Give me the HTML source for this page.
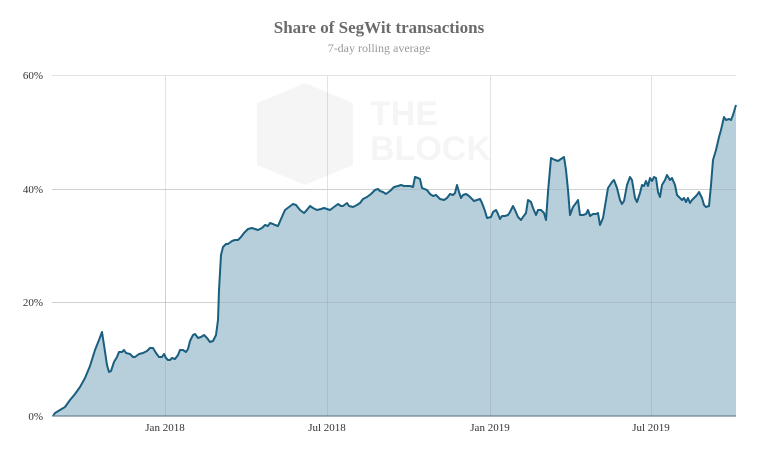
<!DOCTYPE html>
<html><head><meta charset="utf-8"><style>
body{margin:0;background:#fff;width:758px;height:450px;overflow:hidden}
svg text{font-family:"Liberation Serif",serif}
svg text.wm{font-family:"Liberation Sans",sans-serif}
</style></head><body>
<svg width="758" height="450" viewBox="0 0 758 450">
<text x="379" y="33" text-anchor="middle" font-size="17" font-weight="bold" fill="#6b6b6b">Share of SegWit transactions</text>
<text x="379" y="52" text-anchor="middle" font-size="12" fill="#999">7-day rolling average</text>
<g stroke="#e2e2e2" stroke-width="1">
<line x1="52" y1="75.5" x2="736" y2="75.5"/><line x1="52" y1="189.5" x2="736" y2="189.5"/><line x1="52" y1="302.5" x2="736" y2="302.5"/>
<line x1="165.5" y1="75" x2="165.5" y2="416"/><line x1="327.5" y1="75" x2="327.5" y2="416"/><line x1="490.5" y1="75" x2="490.5" y2="416"/><line x1="651.5" y1="75" x2="651.5" y2="416"/>
</g>
<g opacity="0.035" fill="#000">
<polygon points="305,83 353,103 353,165 305,185 257,165 257,103"/>
<text class="wm" x="370" y="125" font-weight="bold" font-size="34">THE</text>
<text class="wm" x="370" y="160" font-weight="bold" font-size="34">BLOCK</text>
</g>
<path fill="#b7cfdb" stroke="none" d="M52,416 L53,416 55,413 60,410 65,407 70,400 75,394 80,387 85,378 90,366 95,350 99,340 102,332 104,345 107,365 109,372 111,371 114,362 117,357 119,352 122,352 124,350 126,353 130,354 133,357 135,357 139,354 143,353 147,351 150,348 153,348 156,353 159,357 162,357 164,354 166,358 168,360 170,360 172,358 175,359 178,355 180,350 183,350 186,352 188,349 190,341 193,335 195,334 198,338 201,337 204,335 207,338 210,342 213,341 216,335 218,320 219,290 221,255 223,247 226,244 228,244 232,241 235,240 238,240 241,237 244,233 248,229 252,228 255,229 258,230 262,228 265,225 268,226 270,223 273,224 275,225 278,226 281,219 285,210 289,207 293,204 296,205 300,210 304,213 306,211 310,206 313,208 317,210 321,209 324,208 327,209 330,210 334,207 338,204 341,206 343,206 347,203 349,206 353,207 357,205 360,203 363,199 367,197 371,194 375,190 378,189 380,191 383,192 386,194 390,191 394,187 398,186 401,185 404,186 407,186 410,186 413,187 415,177 418,178 420,179 422,188 427,190 430,194 433,196 436,195 440,199 444,200 447,198 450,194 453,195 455,193 457,185 459,192 461,198 463,195 466,194 469,196 472,199 474,201 477,200 480,199 482,203 485,211 487,218 491,217 493,212 496,210 498,214 500,219 502,216 505,216 508,215 510,212 513,206 515,210 518,217 521,220 523,217 526,213 528,200 531,202 533,208 536,215 538,210 541,210 544,213 546,220 548,192 551,158 555,160 558,161 561,159 564,157 566,170 568,190 570,215 573,207 576,203 578,200 580,215 583,215 586,214 588,210 590,216 593,214 596,214 598,213 600,225 603,218 606,200 608,188 612,182 614,180 617,188 620,200 622,204 624,201 627,185 630,177 632,180 635,198 637,202 640,193 642,185 644,186 646,181 648,186 650,178 652,181 654,177 656,178 658,192 660,197 662,185 665,180 667,175 670,180 672,178 675,185 677,195 680,198 682,200 684,198 686,202 688,198 690,203 692,200 694,198 697,195 699,192 702,198 704,205 706,207 709,206 711,185 713,160 716,150 719,137 721,130 724,117 726,120 729,119 731,120 733,115 736,105 L736,416 Z"/>
<g stroke="#000" stroke-opacity="0.08" stroke-width="1">
<line x1="52" y1="302.5" x2="736" y2="302.5"/><line x1="52" y1="189.5" x2="736" y2="189.5"/>
<line x1="165.5" y1="240" x2="165.5" y2="416"/><line x1="327.5" y1="209" x2="327.5" y2="416"/><line x1="490.5" y1="217" x2="490.5" y2="416"/><line x1="651.5" y1="181" x2="651.5" y2="416"/>
</g>
<path fill="none" stroke="#1a5f80" stroke-width="2" stroke-linejoin="round" d="M53,416 55,413 60,410 65,407 70,400 75,394 80,387 85,378 90,366 95,350 99,340 102,332 104,345 107,365 109,372 111,371 114,362 117,357 119,352 122,352 124,350 126,353 130,354 133,357 135,357 139,354 143,353 147,351 150,348 153,348 156,353 159,357 162,357 164,354 166,358 168,360 170,360 172,358 175,359 178,355 180,350 183,350 186,352 188,349 190,341 193,335 195,334 198,338 201,337 204,335 207,338 210,342 213,341 216,335 218,320 219,290 221,255 223,247 226,244 228,244 232,241 235,240 238,240 241,237 244,233 248,229 252,228 255,229 258,230 262,228 265,225 268,226 270,223 273,224 275,225 278,226 281,219 285,210 289,207 293,204 296,205 300,210 304,213 306,211 310,206 313,208 317,210 321,209 324,208 327,209 330,210 334,207 338,204 341,206 343,206 347,203 349,206 353,207 357,205 360,203 363,199 367,197 371,194 375,190 378,189 380,191 383,192 386,194 390,191 394,187 398,186 401,185 404,186 407,186 410,186 413,187 415,177 418,178 420,179 422,188 427,190 430,194 433,196 436,195 440,199 444,200 447,198 450,194 453,195 455,193 457,185 459,192 461,198 463,195 466,194 469,196 472,199 474,201 477,200 480,199 482,203 485,211 487,218 491,217 493,212 496,210 498,214 500,219 502,216 505,216 508,215 510,212 513,206 515,210 518,217 521,220 523,217 526,213 528,200 531,202 533,208 536,215 538,210 541,210 544,213 546,220 548,192 551,158 555,160 558,161 561,159 564,157 566,170 568,190 570,215 573,207 576,203 578,200 580,215 583,215 586,214 588,210 590,216 593,214 596,214 598,213 600,225 603,218 606,200 608,188 612,182 614,180 617,188 620,200 622,204 624,201 627,185 630,177 632,180 635,198 637,202 640,193 642,185 644,186 646,181 648,186 650,178 652,181 654,177 656,178 658,192 660,197 662,185 665,180 667,175 670,180 672,178 675,185 677,195 680,198 682,200 684,198 686,202 688,198 690,203 692,200 694,198 697,195 699,192 702,198 704,205 706,207 709,206 711,185 713,160 716,150 719,137 721,130 724,117 726,120 729,119 731,120 733,115 736,105"/>
<line x1="52" y1="416" x2="736" y2="416" stroke="#6d8592" stroke-width="1.2"/>
<g font-size="11" fill="#333" text-anchor="end">
<text x="43" y="79">60%</text><text x="43" y="193">40%</text><text x="43" y="306">20%</text><text x="43" y="420">0%</text>
</g>
<g font-size="11" fill="#333" text-anchor="middle">
<text x="165" y="431">Jan 2018</text><text x="327" y="431">Jul 2018</text><text x="490" y="431">Jan 2019</text><text x="651" y="431">Jul 2019</text>
</g>
</svg>
</body></html>
